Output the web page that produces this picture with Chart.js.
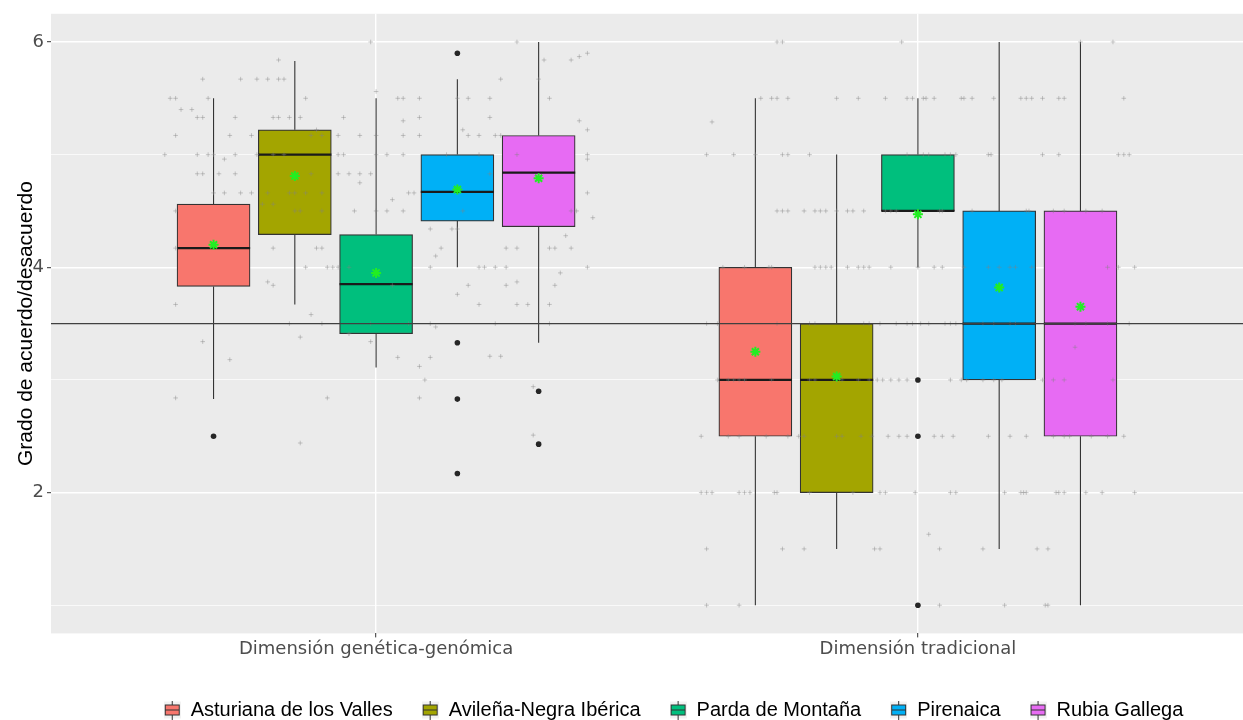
<!DOCTYPE html>
<html>
<head>
<meta charset="utf-8">
<script src="https://cdn.jsdelivr.net/npm/chart.js@4.4.0/dist/chart.umd.min.js"></script>
<style>
  html, body { margin: 0; padding: 0; background: #fff; }
</style>
</head>
<body>
<canvas id="chart" width="1243" height="720"></canvas>
<script>
const categories = ['Dimensión genética-genómica', 'Dimensión tradicional'];
const breeds = ['Asturiana de los Valles', 'Avileña-Negra Ibérica', 'Parda de Montaña', 'Pirenaica', 'Rubia Gallega'];
const breedColors = ['#F8766D', '#A3A500', '#00BF7D', '#00B0F6', '#E76BF3'];

// box stats, one row per breed: [genética-genómica, tradicional]
const q1 = [[3.83, 2.5], [4.29, 2.0], [3.41, 4.5], [4.41, 3.0], [4.36, 2.5]];
const medians = [[4.17, 3.0], [5.0, 3.0], [3.85, 4.5], [4.67, 3.5], [4.84, 3.5]];
const q3 = [[4.56, 4.0], [5.22, 3.5], [4.29, 5.0], [5.0, 4.5], [5.17, 4.5]];
const whiskLow = [[2.83, 1.0], [3.67, 1.5], [3.11, 4.0], [4.0, 1.5], [3.33, 1.0]];
const whiskHigh = [[5.5, 5.5], [5.83, 5.0], [5.5, 5.5], [5.67, 6.0], [6.0, 6.0]];
const means = [[4.2, 3.25], [4.81, 3.03], [3.95, 4.47], [4.69, 3.82], [4.79, 3.65]];
const outliers = [[[2.5], []], [[], []], [[], [3.0, 2.5, 1.0]], [[5.9, 3.33, 2.83, 2.17], []], [[2.9, 2.43], []]];

// raw answers (jittered), rows of [value, [horizontal offsets from the category]]
const jitterGen = [
  [6.0, [-0.01, 0.26]], [5.9, [0.39]], [5.87, [0.375]], [5.84, [-0.18, 0.31, 0.36]],
  [5.67, [-0.32, -0.25, -0.22, -0.20, -0.18, -0.17, 0.23, 0.30]], [5.56, [0.0]],
  [5.5, [-0.38, -0.37, -0.31, -0.13, 0.04, 0.05, 0.08, 0.15, 0.17, 0.21, 0.32]], [5.4, [-0.36, -0.34]],
  [5.33, [-0.33, -0.32, -0.26, -0.19, -0.18, -0.16, -0.14, -0.06, 0.08, 0.21]], [5.3, [0.05, 0.375]],
  [5.22, [-0.11, 0.16, 0.39]],
  [5.17, [-0.37, -0.27, -0.23, -0.12, -0.10, -0.07, -0.03, 0.0, 0.05, 0.08, 0.17, 0.19, 0.22, 0.23]],
  [5.0, [-0.39, -0.33, -0.31, -0.30, -0.26, -0.22, -0.19, -0.17, -0.07, -0.06, 0.0, 0.02, 0.05, 0.13, 0.19, 0.26, 0.39]],
  [4.96, [-0.28, 0.39]],
  [4.83, [-0.33, -0.32, -0.29, -0.26, -0.12, -0.07, -0.05, -0.03, -0.01, 0.21]], [4.75, [-0.03]],
  [4.66, [-0.30, -0.28, -0.25, -0.23, -0.20, -0.16, -0.15, -0.13, -0.10, 0.06, 0.07, 0.39]], [4.6, [0.03]],
  [4.56, [-0.21, -0.19]], [4.5, [-0.37, -0.15, -0.14, -0.10, -0.04, 0.0, 0.02, 0.05, 0.16, 0.36, 0.37]],
  [4.44, [0.40]], [4.34, [0.10, 0.14, 0.15]], [4.28, [0.35]],
  [4.17, [-0.37, -0.19, -0.11, -0.10, 0.12, 0.24, 0.26, 0.32, 0.33, 0.36]], [4.1, [0.11]],
  [4.0, [-0.13, -0.09, -0.08, -0.07, -0.05, 0.10, 0.19, 0.20, 0.22, 0.24, 0.39]], [3.95, [0.34]],
  [3.87, [-0.20, 0.26]], [3.84, [-0.19, 0.03, 0.17, 0.24, 0.33]], [3.76, [0.15]],
  [3.67, [-0.37, 0.19, 0.26, 0.28, 0.32]], [3.58, [-0.12]],
  [3.5, [-0.16, -0.10, -0.01, 0.06, 0.10, 0.22, 0.32]], [3.47, [0.11]], [3.41, [-0.05]], [3.38, [-0.14]],
  [3.34, [-0.32, -0.01]], [3.21, [0.21, 0.23]], [3.2, [0.04, 0.10]], [3.18, [-0.27]], [3.12, [0.08]],
  [3.0, [0.09]], [2.94, [0.29]], [2.84, [-0.37, -0.09, 0.08]], [2.51, [0.29]], [2.44, [-0.14]]
];
const jitterTrad = [
  [6.0, [-0.26, -0.25, -0.03, 0.30, 0.36]],
  [5.5, [-0.29, -0.27, -0.26, -0.24, -0.15, -0.11, -0.06, -0.02, -0.01, 0.01, 0.015, 0.03, 0.08, 0.085, 0.10, 0.14, 0.19, 0.20, 0.21, 0.23, 0.26, 0.27, 0.38]],
  [5.29, [-0.38]],
  [5.0, [-0.39, -0.34, -0.30, -0.25, -0.24, -0.20, -0.02, 0.01, 0.02, 0.05, 0.06, 0.07, 0.13, 0.135, 0.23, 0.26, 0.37, 0.38, 0.39]],
  [4.5, [-0.26, -0.25, -0.24, -0.21, -0.19, -0.18, -0.17, -0.15, -0.13, -0.12, -0.10, -0.06, -0.05, -0.04, 0.04, 0.045, 0.10, 0.20, 0.205, 0.25, 0.27, 0.31, 0.34]],
  [4.0, [-0.36, -0.32, -0.275, -0.27, -0.19, -0.18, -0.17, -0.16, -0.13, -0.11, -0.10, -0.09, -0.05, 0.0, 0.03, 0.045, 0.085, 0.13, 0.15, 0.17, 0.18, 0.21, 0.35, 0.37, 0.40]],
  [3.5, [-0.39, -0.37, -0.26, -0.20, -0.19, -0.10, -0.09, -0.07, -0.04, -0.02, -0.01, 0.005, 0.02, 0.05, 0.06, 0.07, 0.12, 0.14, 0.17, 0.18, 0.29, 0.31, 0.35, 0.39]],
  [3.29, [0.29]],
  [3.0, [-0.37, -0.35, -0.34, -0.33, -0.32, -0.27, -0.20, -0.19, -0.15, -0.14, -0.11, -0.09, -0.075, -0.065, -0.05, -0.035, -0.02, 0.06, 0.08, 0.09, 0.12, 0.14, 0.155, 0.23, 0.25, 0.27, 0.36]],
  [2.5, [-0.40, -0.35, -0.33, -0.28, -0.24, -0.22, -0.21, -0.15, -0.14, -0.105, -0.085, -0.055, -0.035, -0.02, 0.03, 0.045, 0.065, 0.13, 0.17, 0.20, 0.25, 0.27, 0.28, 0.32, 0.35, 0.38]],
  [2.0, [-0.40, -0.39, -0.38, -0.33, -0.32, -0.31, -0.265, -0.26, -0.20, -0.12, -0.07, -0.06, -0.005, 0.06, 0.07, 0.16, 0.19, 0.195, 0.20, 0.255, 0.26, 0.27, 0.31, 0.34, 0.40]],
  [1.63, [0.02]],
  [1.5, [-0.39, -0.25, -0.21, -0.08, -0.07, 0.04, 0.12, 0.22, 0.24]],
  [1.0, [-0.39, -0.33, 0.04, 0.16, 0.235, 0.24]]
];

const yTicks = [1, 2, 3, 4, 5, 6];
const yLabelTicks = [2, 4, 6];
const refLine = 3.5;

// ggplot-like dodge layout
const X_MIN = 0.4, X_MAX = 2.6;
const DODGE = 0.15, BOX_HALF = 0.0675;
const boxX = (b, c) => c + 1 + (b - 2) * DODGE;

const boxSets = breeds.map((name, b) => ({
  type: 'bar',
  label: name,
  data: categories.map((_, c) => ({ x: boxX(b, c), y: [q1[b][c], q3[b][c]] })),
  backgroundColor: breedColors[b],
  borderColor: '#333333',
  borderWidth: 1.2,
  borderSkipped: false,
  grouped: false,
  barThickness: 73,
  order: 6
}));

const whiskerPts = [], medianPts = [], outlierPts = [], meanPts = [];
breeds.forEach((_, b) => {
  categories.forEach((_, c) => {
    const x = boxX(b, c);
    whiskerPts.push({x, y: q3[b][c]}, {x, y: whiskHigh[b][c]}, {x, y: null});
    whiskerPts.push({x, y: q1[b][c]}, {x, y: whiskLow[b][c]}, {x, y: null});
    medianPts.push({x: x - BOX_HALF, y: medians[b][c]}, {x: x + BOX_HALF, y: medians[b][c]}, {x, y: null});
    outliers[b][c].forEach(v => outlierPts.push({x, y: v}));
    meanPts.push({x, y: means[b][c]});
  });
});

const jitterPts = [];
[jitterGen, jitterTrad].forEach((rows, c) => {
  rows.forEach(([v, offs]) => offs.forEach(o => jitterPts.push({x: c + 1 + o, y: v})));
});

// boxplot key glyphs for the legend
const legendIcons = breedColors.map(col => {
  const cv = document.createElement('canvas');
  cv.width = 17; cv.height = 19;
  const g = cv.getContext('2d');
  g.fillStyle = '#F2F2F2';
  g.fillRect(0, 1, 17, 17);
  g.strokeStyle = '#333333';
  g.lineWidth = 1;
  g.beginPath();
  g.moveTo(8.5, 0); g.lineTo(8.5, 4);
  g.moveTo(8.5, 15); g.lineTo(8.5, 19);
  g.stroke();
  g.fillStyle = col;
  g.fillRect(1.5, 4.5, 14, 10);
  g.strokeRect(1.5, 4.5, 14, 10);
  g.beginPath();
  g.moveTo(1.5, 9.5); g.lineTo(15.5, 9.5);
  g.stroke();
  return cv;
});

const panelPlugin = {
  id: 'panel',
  beforeDraw(chart) {
    const {ctx, chartArea: a} = chart;
    ctx.save();
    ctx.fillStyle = '#EBEBEB';
    ctx.fillRect(a.left, a.top, a.right - a.left, a.bottom - a.top);
    ctx.restore();
  },
  afterLayout(chart) {
    // ggplot puts the key row a bit right of the canvas centre
    const lg = chart.legend;
    lg.left += 52; lg.right += 52;
    lg.top += 10; lg.bottom += 10;
  }
};

new Chart(document.getElementById('chart'), {
  type: 'scatter',
  data: {
    datasets: [
      ...boxSets,
      { type: 'line', label: 'whiskers', data: whiskerPts, borderColor: '#333333', borderWidth: 1.1,
        pointRadius: 0, spanGaps: false, order: 7 },
      { type: 'line', label: 'medians', data: medianPts, borderColor: '#1A1A1A', borderWidth: 2.2,
        pointRadius: 0, spanGaps: false, order: 4 },
      { type: 'scatter', label: 'jitter', data: jitterPts, pointStyle: 'cross', pointRadius: 2.3,
        borderColor: 'rgba(130,130,130,0.42)', borderWidth: 1, order: 3 },
      { type: 'line', label: 'ref', data: [{x: X_MIN, y: refLine}, {x: X_MAX, y: refLine}],
        borderColor: '#404040', borderWidth: 1.1, pointRadius: 0, order: 2 },
      { type: 'scatter', label: 'outliers', data: outlierPts, pointStyle: 'circle', pointRadius: 2.8,
        backgroundColor: '#262626', borderWidth: 0, order: 1 },
      { type: 'scatter', label: 'means', data: meanPts, pointStyle: 'star', pointRadius: 5,
        borderColor: '#22EE22', borderWidth: 2, order: 0 }
    ]
  },
  options: {
    responsive: false,
    animation: false,
    layout: { autoPadding: false, padding: { top: 12, right: 0, bottom: 0, left: 0 } },
    plugins: {
      tooltip: { enabled: false },
      legend: {
        position: 'bottom',
        labels: {
          usePointStyle: true,
          pointStyleWidth: 17,
          padding: 29,
          color: '#000000',
          font: { family: 'Liberation Sans', size: 20 },
          generateLabels: () => breeds.map((name, i) => ({
            text: name, pointStyle: legendIcons[i], fillStyle: breedColors[i],
            strokeStyle: '#333333', lineWidth: 0, hidden: false, datasetIndex: i
          }))
        }
      }
    },
    scales: {
      x: {
        type: 'linear',
        min: X_MIN,
        max: X_MAX,
        offset: false,
        afterBuildTicks: s => { s.ticks = categories.map((_, i) => ({ value: i + 1 })); },
        ticks: {
          autoSkip: false,
          maxRotation: 0,
          padding: 1,
          color: '#4D4D4D',
          font: { family: 'DejaVu Sans', size: 18 },
          callback: v => categories[Math.round(v) - 1]
        },
        grid: { offset: false, color: '#FFFFFF', lineWidth: 1.4, tickLength: 4, tickColor: '#333333', tickWidth: 1 },
        border: { display: false }
      },
      y: {
        type: 'linear',
        min: 0.75,
        max: 6.25,
        afterBuildTicks: s => { s.ticks = yTicks.map(v => ({ value: v })); },
        afterFit: s => { s.width = 51; },
        ticks: {
          padding: 3,
          color: '#4D4D4D',
          font: { family: 'DejaVu Sans', size: 18 },
          callback: v => yLabelTicks.includes(v) ? String(v) : ''
        },
        grid: {
          color: '#FFFFFF',
          lineWidth: ctx => yLabelTicks.includes(ctx.tick.value) ? 1.4 : 0.7,
          tickLength: 4,
          tickWidth: 1,
          tickColor: ctx => yLabelTicks.includes(ctx.tick.value) ? '#333333' : 'rgba(0,0,0,0)'
        },
        border: { display: false },
        title: {
          display: true,
          text: 'Grado de acuerdo/desacuerdo',
          color: '#000000',
          font: { family: 'Liberation Sans', size: 21 },
          padding: { top: 14, bottom: 0 }
        }
      }
    }
  },
  plugins: [panelPlugin]
});
</script>
</body>
</html>
